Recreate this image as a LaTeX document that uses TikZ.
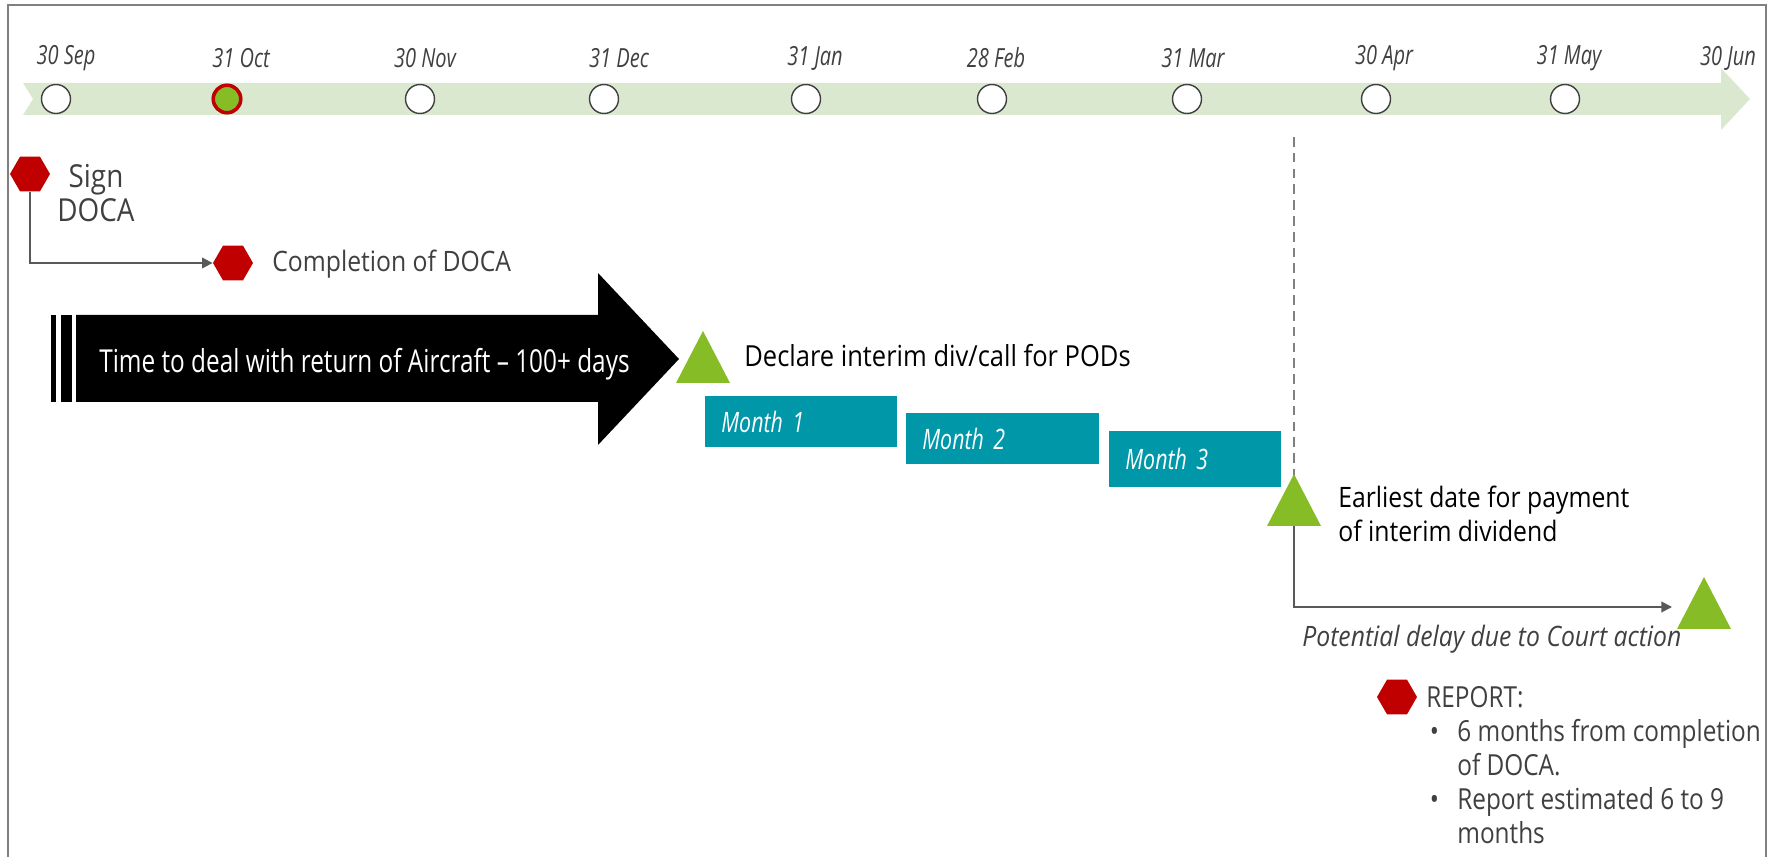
\documentclass[tikz,border=0pt]{standalone}
\usepackage{fontspec}
\setmainfont{Open Sans}
\newfontfamily\narrowfont[FakeStretch=0.76]{Open Sans}
\newfontfamily\arrowfont[FakeStretch=0.77]{Open Sans}
\newfontfamily\bodyfont[FakeStretch=0.88]{Open Sans}
\newfontfamily\reportfont[FakeStretch=0.84]{Open Sans}
\usetikzlibrary{positioning,shapes.geometric,arrows.meta}

\definecolor{bandgreen}{RGB}{217,232,207}
\definecolor{podgreen}{RGB}{134,188,37}
\definecolor{docared}{RGB}{192,0,0}
\definecolor{monthteal}{RGB}{0,151,169}
\definecolor{framegrey}{RGB}{128,128,128}
\definecolor{darkgrey}{RGB}{64,64,64}
\definecolor{conngrey}{RGB}{89,89,89}

\tikzset{
  datelabel/.style={inner sep=0, text=darkgrey, font=\narrowfont\itshape\fontsize{15}{17}\selectfont},
  monthdot/.style={circle, draw=darkgrey, fill=white, line width=0.8pt, minimum size=0.58cm, inner sep=0},
  nowdot/.style={circle, draw=docared, fill=podgreen, line width=2pt, minimum size=0.55cm, inner sep=0},
  stophex/.style={regular polygon, regular polygon sides=6, fill=docared, minimum size=0.8cm, inner sep=0},
  monthbox/.style={rectangle, fill=monthteal, inner xsep=0.32cm, inner ysep=0, align=left,
    text=white, font=\narrowfont\itshape\fontsize{16}{18}\selectfont},
  bodytext/.style={inner sep=0, font=\bodyfont\fontsize{16}{19}\selectfont},
  conn/.style={draw=conngrey, line width=1.1pt, -{Triangle[length=6pt,width=6pt]}},
  dashline/.style={draw=framegrey, line width=1.1pt, dash pattern=on 5.5pt off 3.5pt}
}

\begin{document}
\begin{tikzpicture}[x=0.02cm,y=-0.02cm]
  \useasboundingbox (0,0) rectangle (1771,857);

  % frame, open at the bottom
  \draw[framegrey, line width=1.2pt] (8,857) -- (8,5) -- (1766,5) -- (1766,857);

  % timeline band
  \fill[bandgreen] (23,83) -- (1721,83) -- (1721,68) -- (1750,99) -- (1721,130)
    -- (1721,115) -- (23,115) -- (33,99) -- cycle;

  % month ends
  \foreach \cx/\lx/\d [count=\i] in {56/66/30 Sep, 227/241/31 Oct, 420/425/30 Nov,
      604/619/31 Dec, 806/815/31 Jan, 992/996/28 Feb, 1187/1193/31 Mar,
      1376/1384/30 Apr, 1565/1569/31 May}{
    \node[monthdot] (m\i) at (\cx,99) {};
    \node[datelabel] (d\i) at (\lx,58) {\d};
  }
  \node[nowdot] (now) at (227,99) {};
  \node[datelabel] (d10) at (1728,58) {30 Jun};

  % DOCA
  \node[stophex] (sign) at (30,174) {};
  \node[bodytext, text=darkgrey, align=center, font=\bodyfont\fontsize{18}{19.5}\selectfont]
    (signtxt) at (96,193) {Sign\\DOCA};
  \node[stophex] (compl) at (233,263) {};
  \node[bodytext, text=darkgrey, anchor=west] (compltxt) at (272,264) {Completion of DOCA};
  \draw[conn] (sign.south) |- (compl.west);

  % aircraft arrow
  \fill[black] (76,315) -- (598,315) -- (598,273) -- (679,359) -- (598,445)
    -- (598,402) -- (76,402) -- cycle;
  \fill[black] (51,315) rectangle (56,402);
  \fill[black] (61,315) rectangle (72,402);
  \node[inner sep=0, text=white, anchor=west, font=\arrowfont\fontsize{18}{21}\selectfont]
    (aircraft) at (99,364) {Time to deal with return of Aircraft – 100+ days};

  % interim dividend
  \coordinate (declare) at (703,357);
  \fill[podgreen] (declare) +(-27,26) -- +(27,26) -- +(0,-26) -- cycle;
  \node[bodytext, anchor=west, font=\bodyfont\fontsize{16.5}{19}\selectfont]
    (decltxt) at (744,356) {Declare interim div/call for PODs};

  \node[monthbox, anchor=north west, text width=3.2cm, minimum height=1.02cm] (mon1) at (705,396) {Month 1};
  \node[monthbox, anchor=north west, text width=3.22cm, minimum height=1.02cm] (mon2) at (906,413) {Month 2};
  \node[monthbox, anchor=north west, text width=2.8cm, minimum height=1.12cm] (mon3) at (1109,431) {Month 3};

  \coordinate (dashtop) at (1294,137);
  \coordinate (earliest) at (1294,500);
  \coordinate (delayend) at (1672,607);
  \coordinate (final) at (1704,603);
  \draw[dashline] (dashtop) -- (earliest);
  \draw[conn] (earliest) |- (delayend);
  \fill[podgreen] (earliest) +(-27,26) -- +(27,26) -- +(0,-26) -- cycle;
  \fill[podgreen] (final) +(-27,26) -- +(27,26) -- +(0,-26) -- cycle;
  \node[bodytext, anchor=west, align=left] (earlytxt) at (1338,514)
    {Earliest date for payment\\of interim dividend};
  \node[bodytext, anchor=west, text=darkgrey, font=\bodyfont\itshape\fontsize{16}{19}\selectfont]
    (delaytxt) at (1302,639) {Potential delay due to Court action};

  % report
  \node[stophex] (report) at (1397,697) {};
  \node[bodytext, text=darkgrey, anchor=north west, align=left,
    font=\reportfont\fontsize{16.5}{19.4}\selectfont] (reptxt) at (1426,686)
    {REPORT:\\
     \makebox[0.62cm][l]{\hspace{2pt}•}6 months from completion\\
     \hspace*{0.62cm}of DOCA.\\
     \makebox[0.62cm][l]{\hspace{2pt}•}Report estimated 6 to 9\\
     \hspace*{0.62cm}months};
\end{tikzpicture}
\end{document}
